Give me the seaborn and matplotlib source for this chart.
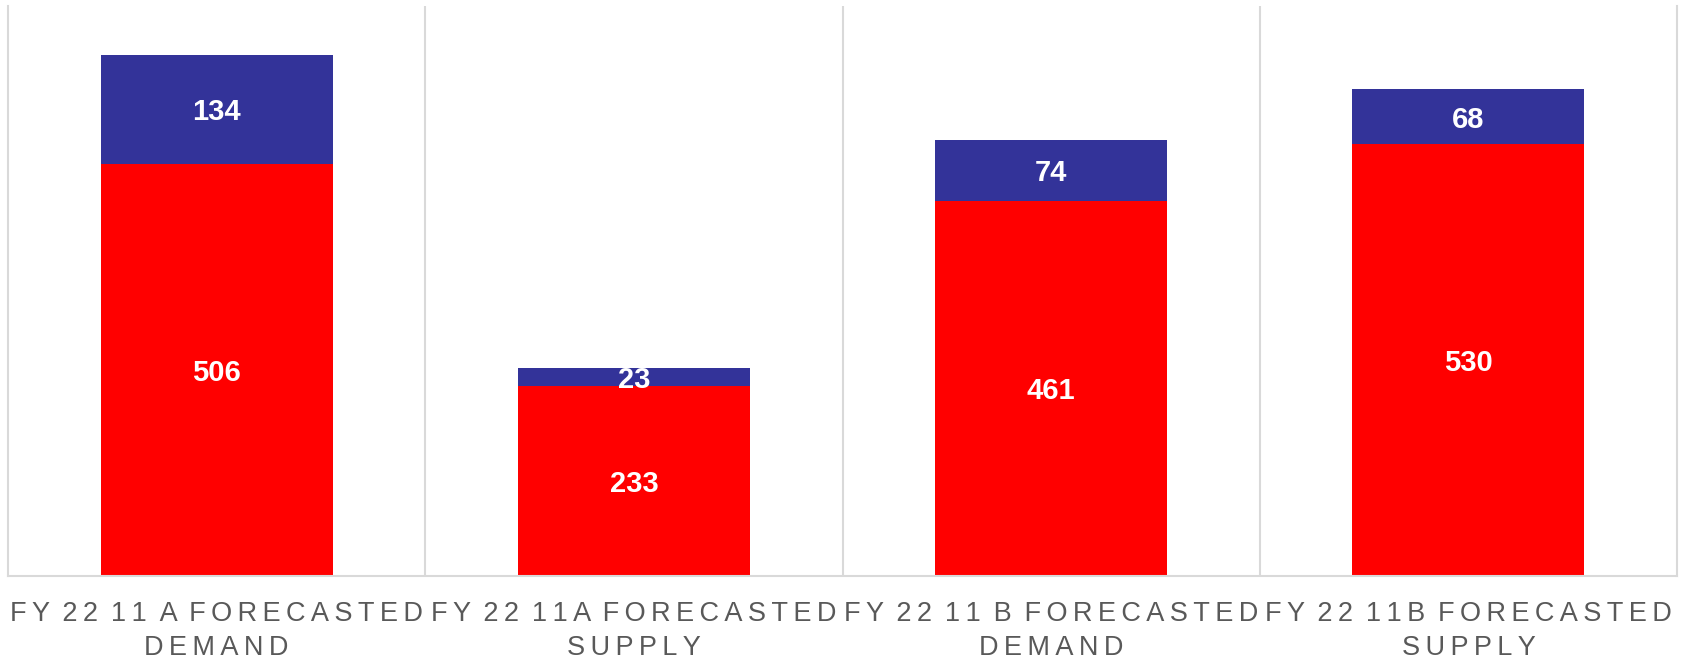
import matplotlib
matplotlib.use("Agg")
import matplotlib.pyplot as plt
import seaborn as sns

categories = ["FY 22 11 A FORECASTED DEMAND", "FY 22 11A FORECASTED SUPPLY",
              "FY 22 11 B FORECASTED DEMAND", "FY 22 11B FORECASTED SUPPLY"]
red_vals = [506, 233, 461, 530]
blue_vals = [134, 23, 74, 68]

RED = "#ff0000"
BLUE = "#333399"
GRID = "#d9d9d9"
TEXT = "#595959"


def track(line):
    # fake letter spacing with thin spaces
    words = ["\u2009".join(w) for w in line.split(" ")]
    return " \u2009".join(words)


def spaced(label):
    # last word goes on its own line
    first, last = label.rsplit(" ", 1)
    return track(first) + "\n" + track(last)


sns.set_style("white")
plt.rcParams["font.family"] = ["Liberation Sans", "DejaVu Sans"]

fig, ax = plt.subplots(figsize=(16.82, 6.59), dpi=100)
fig.subplots_adjust(left=8 / 1682, right=1677 / 1682, top=1 - 6 / 659, bottom=1 - 576 / 659)

sns.barplot(x=categories, y=red_vals, color=RED, width=0.556, saturation=1,
            linewidth=0, ax=ax)
sns.barplot(x=categories, y=blue_vals, bottom=red_vals, color=BLUE, width=0.556,
            saturation=1, linewidth=0, ax=ax)

for cont in ax.containers:
    texts = ax.bar_label(cont, label_type="center", color="white", fontsize=21,
                         fontweight="bold")
    for t in texts:
        t.set_va("center_baseline")

for x in [0.5, 1.5, 2.5]:
    ax.axvline(x, color=GRID, lw=1.5, zorder=0)

ax.set_xlim(-0.5, 3.5)
ax.set_ylim(0, 700)
ax.set_yticks([])
ax.set_xticks(range(len(categories)))
ax.set_xticklabels([spaced(c) for c in categories], color=TEXT, fontsize=19.5,
                   linespacing=1.38)
ax.tick_params(axis="x", length=0, pad=18)
ax.set_xlabel("")
ax.set_ylabel("")

for side in ["left", "right", "bottom"]:
    ax.spines[side].set_color(GRID)
    ax.spines[side].set_linewidth(1.5)
ax.spines["top"].set_visible(False)

fig.savefig("out.png", dpi=100)
